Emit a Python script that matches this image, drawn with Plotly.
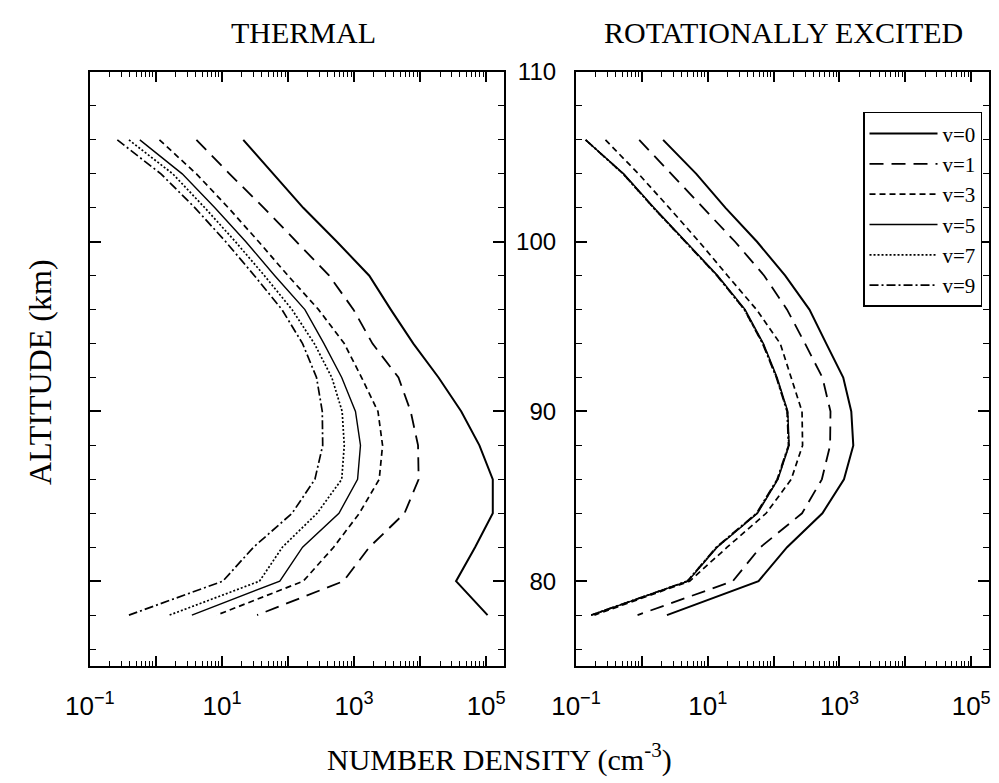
import plotly.graph_objects as go

# ---------------- data ----------------
altitude = [106, 104, 102, 100, 98, 96, 94, 92, 90, 88, 86, 84, 82, 80, 78]  # km

# THERMAL panel, number density (cm^-3)
thermal_v0 = [21, 60, 170, 550, 1700, 3600, 7900, 19000, 42000, 79000, 126000, 126000, 68000, 35000, 105000]
thermal_v1 = [4.1, 13, 43, 135, 420, 980, 1900, 4700, 7200, 9300, 9500, 5800, 1700, 690, 34]
thermal_v3 = [1.13, 4.1, 12.5, 36, 100, 290, 710, 1300, 2300, 2700, 2400, 1200, 490, 170, 8.3]
thermal_v5 = [0.57, 2.5, 7.8, 23, 63, 180, 350, 650, 1050, 1250, 1130, 590, 166, 75, 3.5]
thermal_v7 = [0.39, 1.8, 5.5, 16, 44, 115, 250, 460, 660, 710, 650, 275, 82, 37, 1.6]
thermal_v9 = [0.26, 1.19, 3.9, 11.4, 31, 81, 166, 270, 330, 335, 255, 115, 30, 10.3, 0.39]

# ROTATIONALLY EXCITED panel, number density (cm^-3)
rot_v0 = [2.1, 6.7, 18.6, 56, 150, 350, 630, 1140, 1510, 1620, 1170, 550, 160, 59, 2.4]
rot_v1 = [0.91, 2.8, 8.7, 26, 72, 160, 300, 550, 730, 720, 540, 270, 63, 24, 0.86]
rot_v3 = [0.28, 0.89, 2.6, 7.4, 20, 55, 126, 186, 270, 275, 185, 77, 19.7, 5.3, 0.19]
rot_v5 = [0.14, 0.53, 1.53, 4.7, 14.2, 37, 70, 113, 164, 172, 116, 57, 13.9, 5.0, 0.17]
rot_v7 = [0.14, 0.52, 1.5, 4.6, 14, 36, 69, 111, 162, 170, 115, 56, 13.7, 4.9, 0.17]
rot_v9 = [0.14, 0.52, 1.5, 4.6, 13.8, 36, 68, 110, 160, 168, 113, 55, 13.5, 4.9, 0.17]

levels = ["v=0", "v=1", "v=3", "v=5", "v=7", "v=9"]
thermal = [thermal_v0, thermal_v1, thermal_v3, thermal_v5, thermal_v7, thermal_v9]
rotational = [rot_v0, rot_v1, rot_v3, rot_v5, rot_v7, rot_v9]

x_major = [0.1, 1, 10, 100, 1000, 10000, 100000]
x_major_text = ["10<sup>−1</sup>", "", "10<sup>1</sup>", "", "10<sup>3</sup>", "", "10<sup>5</sup>"]
y_major = [80, 90, 100, 110]

# ---------------- styling ----------------
line_styles = [
    dict(dash="solid", width=2.0),
    dict(dash="14px,8px", width=1.8),
    dict(dash="6px,4px", width=1.7),
    dict(dash="solid", width=1.4),
    dict(dash="2px,2px", width=1.7),
    dict(dash="9px,3px,2px,3px", width=1.7),
]

x_minor = [k * 10.0 ** e for e in range(-1, 5) for k in range(2, 10)]
y_minor = list(range(76, 110, 2))

fig = go.Figure()
for name, vals, st in zip(levels, thermal, line_styles):
    fig.add_trace(go.Scatter(x=vals, y=altitude, mode="lines", name=name,
                             line=dict(color="black", **st), showlegend=False,
                             xaxis="x", yaxis="y"))
for name, vals, st in zip(levels, rotational, line_styles):
    fig.add_trace(go.Scatter(x=vals, y=altitude, mode="lines", name=name,
                             line=dict(color="black", **st), showlegend=True,
                             xaxis="x2", yaxis="y2"))

ydom = [0.1494, 0.908]


def xaxis_cfg(domain, anchor):
    return dict(domain=domain, anchor=anchor, type="log", range=[-1, 5.27],
                automargin=False,
                tickmode="array", tickvals=x_major, ticktext=x_major_text,
                ticks="inside", ticklen=10, tickwidth=1.5, tickcolor="black",
                showline=True, linewidth=2.2, linecolor="black", mirror="allticks",
                showgrid=False, zeroline=False,
                tickfont=dict(family="Liberation Sans", size=26, color="black"),
                ticklabelstandoff=16,
                minor=dict(tickmode="array", tickvals=x_minor, ticks="inside",
                           ticklen=5, tickwidth=1, tickcolor="black", showgrid=False))


def yaxis_cfg(anchor, labels):
    return dict(domain=ydom, anchor=anchor, range=[75, 110],
                automargin=False,
                tickmode="array", tickvals=y_major, ticks="inside", ticklen=11,
                tickwidth=1.5, tickcolor="black", showticklabels=labels,
                showline=True, linewidth=2.2, linecolor="black", mirror="allticks",
                showgrid=False, zeroline=False,
                tickfont=dict(family="Liberation Sans", size=24, color="black"),
                ticklabelstandoff=13,
                minor=dict(tickmode="array", tickvals=y_minor, ticks="inside",
                           ticklen=6, tickwidth=1.2, tickcolor="black", showgrid=False))


serif = "Liberation Serif"
fig.update_layout(
    width=999, height=783,
    margin=dict(l=0, r=0, t=0, b=0, autoexpand=False),
    paper_bgcolor="white", plot_bgcolor="white",
    xaxis=xaxis_cfg([0.09, 0.5045], "y"),
    yaxis=yaxis_cfg("x", False),
    xaxis2=xaxis_cfg([0.5766, 0.99], "y2"),
    yaxis2=yaxis_cfg("x2", True),
    legend=dict(x=0.983, xanchor="right", y=0.857, yanchor="top",
                bgcolor="white", bordercolor="black", borderwidth=1.5,
                font=dict(family=serif, size=21, color="black"),
                itemwidth=68, tracegroupgap=0),
    showlegend=True,
    annotations=[
        dict(text="THERMAL", x=0.304, y=0.959, xref="paper", yref="paper",
             xanchor="center", yanchor="middle",
             showarrow=False, font=dict(family=serif, size=30, color="black")),
        dict(text="ROTATIONALLY EXCITED", x=0.784, y=0.959, xref="paper", yref="paper",
             xanchor="center", yanchor="middle",
             showarrow=False, font=dict(family=serif, size=30, color="black")),
        dict(text="NUMBER DENSITY (cm<sup>-3</sup>)", x=0.5, y=0.033, xref="paper", yref="paper",
             xanchor="center", yanchor="middle",
             showarrow=False, font=dict(family=serif, size=30, color="black")),
        dict(text="ALTITUDE (km)", x=0.04, y=0.525, xref="paper", yref="paper",
             xanchor="center", yanchor="middle",
             textangle=-90, showarrow=False,
             font=dict(family=serif, size=32, color="black")),
    ],
)

fig.write_html("out.html")
